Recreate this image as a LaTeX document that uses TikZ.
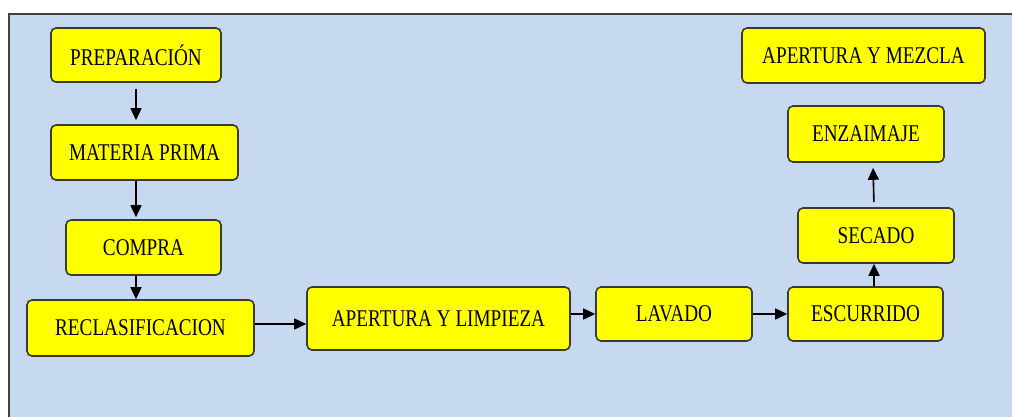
\documentclass[tikz,border=0pt]{standalone}
\usepackage{fontspec}
\setmainfont{Liberation Serif}
\newfontfamily\condfont[FakeStretch=0.8]{Liberation Serif}
\usetikzlibrary{arrows.meta}
\definecolor{panel}{HTML}{C6D9F1}
\definecolor{boxline}{HTML}{3A3A2E}
\definecolor{boxfill}{HTML}{FFFF00}
\tikzset{
  stepbox/.style={draw=boxline, line width=1.6pt, fill=boxfill, rounded corners=5pt,
    inner sep=0pt, align=center, text=black, font=\condfont\fontsize{24}{26}\selectfont},
  arr/.style={draw=black, line width=1.6pt, -{Triangle[length=12pt,width=11pt]}}
}
\begin{document}
\begin{tikzpicture}[x=1pt,y=-1pt]
\useasboundingbox (0,0) rectangle (1012,416);
\begin{scope}
\clip (0,0) rectangle (1012,416);
\fill[white] (0,0) rectangle (1012,416);
\draw[draw=black!75, line width=1.5pt, fill=panel] (9,14) rectangle (1030,440);
\end{scope}
\node[stepbox, minimum width=170pt, minimum height=54pt] (prep) at (136,55) {PREPARACIÓN};
\node[stepbox, minimum width=187pt, minimum height=55pt] (mat) at (144.5,152.5) {MATERIA PRIMA};
\node[stepbox, minimum width=155pt, minimum height=55pt] (compra) at (143.5,247.5) {COMPRA};
\node[stepbox, minimum width=227pt, minimum height=56pt] (recl) at (140.5,328) {RECLASIFICACION};
\node[stepbox, minimum width=263pt, minimum height=63pt] (apert) at (438.5,318.5) {APERTURA Y LIMPIEZA};
\node[stepbox, minimum width=156pt, minimum height=54pt] (lav) at (674,314) {LAVADO};
\node[stepbox, minimum width=155pt, minimum height=54pt] (esc) at (865.5,314) {ESCURRIDO};
\node[stepbox, minimum width=156pt, minimum height=55pt] (sec) at (876,235.5) {SECADO};
\node[stepbox, minimum width=156pt, minimum height=56pt] (enz) at (866,134) {ENZAIMAJE};
\node[stepbox, minimum width=243pt, minimum height=55pt] (aym) at (863.5,55.5) {APERTURA Y MEZCLA};
\draw[arr, shorten <=6pt, shorten >=4pt] (prep.south) -- (prep.south |- mat.north);
\draw[arr, shorten >=2pt] (mat.south -| prep) -- (compra.north -| prep);
\draw[arr] (compra.south -| prep) -- (recl.north -| prep);
\draw[arr] (recl.east) ++(0,-4) -- (apert.west |- 0,324);
\draw[arr] (lav.west -| apert.east) -- (lav.west);
\draw[arr] (lav.east) -- (esc.west);
\draw[arr] (esc.north -| 874,0) -- (sec.south -| 874,0);
\draw[arr, shorten <=5pt, shorten >=5pt] (sec.north -| 874,0) -- (enz.south -| 873,0);
\end{tikzpicture}
\end{document}
